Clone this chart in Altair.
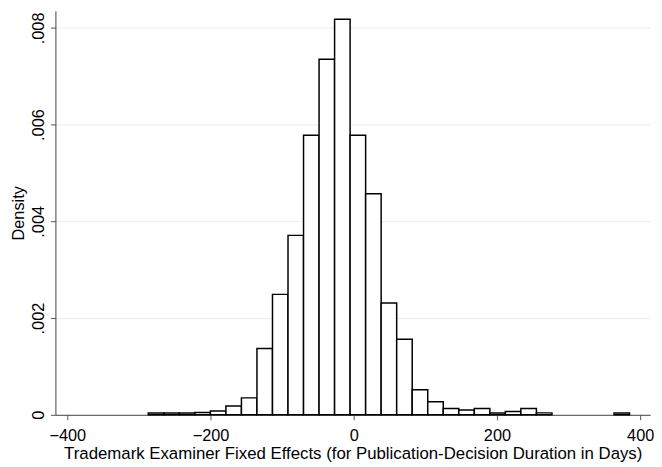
import altair as alt
import pandas as pd

# Histogram parameters
bin_start = -286.9
bin_width = 21.68
density = [0.000035, 0.000035, 0.000035, 0.00005, 0.00008, 0.00018, 0.00035,
           0.00137, 0.00249, 0.00371, 0.00578, 0.00735, 0.00818, 0.00578,
           0.00457, 0.00231, 0.00156, 0.00052, 0.00027, 0.00013, 0.0001,
           0.00013, 0.000035, 0.00007, 0.00013, 0.00004, 0, 0, 0, 0, 0.000035]

x_ticks = [-400, -200, 0, 200, 400]
y_ticks = [0, 0.002, 0.004, 0.006, 0.008]

lo = [bin_start + i * bin_width for i in range(len(density))]
df = pd.DataFrame({"lo": lo, "hi": [v + bin_width for v in lo], "density": density})
df = df[df["density"] > 0]

FONT = "Liberation Sans"

chart = alt.Chart(df).mark_rect(fill="white", stroke="black", strokeWidth=1.5).encode(
    x=alt.X("lo:Q",
            scale=alt.Scale(domain=[-416.6, 413.8], nice=False, zero=False),
            axis=alt.Axis(values=x_ticks, grid=False, format="d",
                          title="Trademark Examiner Fixed Effects (for Publication-Decision Duration in Days)",
                          titleFont=FONT, titleFontSize=17, titleFontWeight="normal",
                          titleColor="black", titlePadding=2,
                          labelFont=FONT, labelFontSize=16.5, labelColor="black",
                          labelPadding=8, tickSize=5, tickColor="#555",
                          domainColor="#444", labelFlush=False)),
    x2="hi:Q",
    y=alt.Y("density:Q",
            scale=alt.Scale(domain=[0, 0.008353], nice=False),
            axis=alt.Axis(values=y_ticks, grid=True, gridColor="#e6eef0", gridWidth=1,
                          labelExpr="datum.value == 0 ? '0' : substring(format(datum.value, '.3f'), 1)",
                          title="Density", titleFont=FONT, titleFontSize=16.5,
                          titleFontWeight="normal", titleColor="black", titlePadding=4,
                          labelFont=FONT, labelFontSize=16.5, labelColor="black",
                          labelAngle=270, labelAlign="center", labelBaseline="bottom",
                          labelPadding=4, tickSize=5, tickColor="#555",
                          domainColor="#444")),
    y2=alt.datum(0),
).properties(
    width=602, height=409,
    padding={"left": 48, "top": 0, "right": 4, "bottom": 50},
    autosize=alt.AutoSizeParams(type="none"),
).configure_view(stroke=None)

chart.save("out.html", embed_options={"renderer": "svg", "actions": False})
